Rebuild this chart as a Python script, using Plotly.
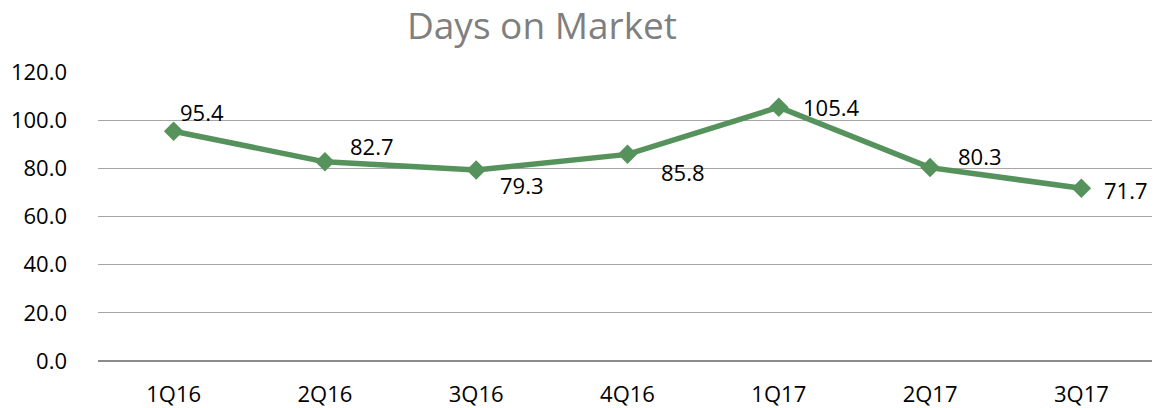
import plotly.graph_objects as go

quarters = ["1Q16", "2Q16", "3Q16", "4Q16", "1Q17", "2Q17", "3Q17"]
days_on_market = [95.4, 82.7, 79.3, 85.8, 105.4, 80.3, 71.7]
y_ticks = [0, 20, 40, 60, 80, 100, 120]
y_tick_labels = ["0.0", "20.0", "40.0", "60.0", "80.0", "100.0", "120.0"]

# label pixel offsets (left edge x shift, vertical shift)
label_dx = [4, 23, 22, 31, 22, 26, 21]
label_dy = [19, 16, -15, -18, 0, 12, -2]

green = "#56935c"
font_family = "Open Sans, Liberation Sans, sans-serif"

fig = go.Figure()
fig.add_trace(go.Scatter(
    x=quarters, y=days_on_market, mode="lines+markers",
    line=dict(color=green, width=5.5),
    marker=dict(symbol="diamond", size=15, color=green),
    hoverinfo="skip", showlegend=False,
))

for q, v, dx, dy in zip(quarters, days_on_market, label_dx, label_dy):
    fig.add_annotation(
        x=q, y=v, text=f"{v:.1f}", showarrow=False,
        xanchor="left", yanchor="middle", xshift=dx, yshift=dy,
        font=dict(family=font_family, size=22, color="#000000"),
    )

fig.update_layout(
    width=1152, height=400,
    margin=dict(l=90, r=3, t=64, b=47),
    paper_bgcolor="white", plot_bgcolor="white",
    title=dict(text="Days on Market", x=(542 - 8) / 1152, xanchor="center",
               y=1 - (26 - 8) / 400, yanchor="middle",
               font=dict(family=font_family, size=37, color="#7f7f7f"),
               automargin=False),
    xaxis=dict(type="category", range=[-0.5, 6.5], showgrid=False, showline=False,
               ticks="", ticklabelstandoff=18, automargin=False,
               tickfont=dict(family=font_family, size=22, color="#000000"),
               fixedrange=True),
    yaxis=dict(range=[0, 120], tickvals=y_ticks, ticktext=y_tick_labels,
               showgrid=True, gridcolor="#a6a6a6", gridwidth=1,
               zeroline=True, zerolinecolor="#8c8c8c", zerolinewidth=2,
               showline=False, ticks="", ticklabelstandoff=30, automargin=False,
               tickfont=dict(family=font_family, size=22, color="#000000"),
               fixedrange=True),
)

fig.write_html("out.html")
